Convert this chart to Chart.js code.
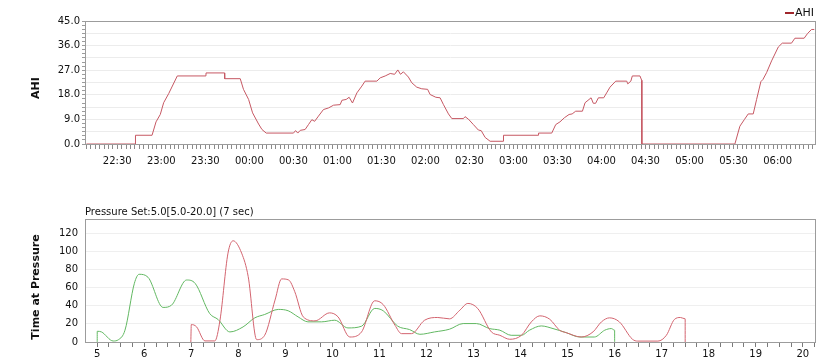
<!DOCTYPE html>
<html>
<head>
<meta charset="utf-8">
<script src="https://cdn.jsdelivr.net/npm/chart.js@4.4.1/dist/chart.umd.min.js"></script>
<style>
  body { margin: 0; background: #fff; width: 827px; height: 364px; overflow: hidden; position: relative;
         font-family: "DejaVu Sans", Verdana, sans-serif; color: #111; }
  canvas { position: absolute; left: 0; }
  #ahiChart { top: 0; }
  #pressureChart { top: 180px; }
  .vtitle { position: absolute; font-weight: bold; font-size: 11px; white-space: nowrap;
            transform: translate(-50%, -50%) rotate(-90deg); }
  #pressureNote { position: absolute; left: 85px; top: 206px; font-size: 10px; white-space: nowrap; }
  #legend { position: absolute; left: 785px; top: 6px; font-size: 11px; white-space: nowrap; }
  #legend span { display: inline-block; width: 9px; height: 0; border-top: 2px solid #a0262c; vertical-align: middle; margin-right: 1px; }
</style>
</head>
<body>
<canvas id="ahiChart" width="827" height="172"></canvas>
<canvas id="pressureChart" width="827" height="184"></canvas>
<div class="vtitle" style="left:35px; top:88px;">AHI</div>
<div class="vtitle" style="left:35px; top:287px;">Time at Pressure</div>
<div id="pressureNote">Pressure Set:5.0[5.0-20.0] (7 sec)</div>
<div id="legend"><span></span>AHI</div>

<script>
// ====================== DATA ======================
// AHI through the night, x = minutes after 22:00
const ahiMinutes = [
  9, 42.3, 42.4, 53.7, 56.4, 59.3, 61.6, 65, 70.9, 90.4, 90.5, 103.1, 103.2, 113.8,
  116, 119.5, 122.2, 126.3, 128.6, 131.5, 150.1, 151.5, 153, 154.7, 158, 160.3, 162.6,
  164.5, 167.1, 170.5, 174, 177.4, 181.9, 183.1, 186, 188, 190.3, 193.3, 196.7, 198.9,
  206.9, 209.2, 212.6, 216, 219, 221.2, 223, 225, 228.4, 230.7, 234.1, 237.5, 241.5,
  243.2, 247.1, 250, 252.3, 255.7, 258, 265.9, 267, 269.3, 272.7, 276.1, 278, 280.7,
  284.1, 293.1, 293.2, 317, 317.1, 326.1, 328.8, 331.7, 334.7, 337.9, 340, 342.4, 347,
  348.8, 352.9, 354.4, 356, 357.9, 361.5, 363.5, 365.8, 369.7, 377.2, 377.9, 380, 381,
  386.2, 387.4, 387.5, 450.9, 454.3, 457.3, 460, 463.4, 465.7, 468.6, 470, 472.5, 475.9,
  480.5, 483.2, 489.5, 491.8, 498.1, 500.4, 503.1, 505
];
const ahiValues = [
  0, 0, 3.2, 3.2, 8.1, 10.8, 15.1, 18.4, 24.9, 24.9, 26.0, 26.0, 23.9, 23.9,
  20.0, 16.3, 11.4, 7.3, 5.3, 4.0, 4.0, 4.9, 4.0, 5.0, 5.3, 7.1, 8.9,
  8.3, 10.2, 12.6, 13.2, 14.2, 14.4, 16.0, 16.3, 17.1, 15.0, 18.7, 21.2, 23.0,
  23.0, 24.2, 24.9, 25.8, 25.5, 27.1, 25.5, 26.4, 24.5, 22.4, 20.8, 20.2, 20.0,
  18.1, 17.1, 16.9, 14.4, 11.0, 9.3, 9.3, 10.0, 9.1, 7.1, 5.1, 4.9, 2.4,
  1.0, 1.0, 3.2, 3.2, 4.0, 4.0, 7.1, 8.1, 9.6, 10.8, 11.0, 12.0, 12.0,
  15.1, 16.9, 14.9, 14.9, 16.9, 16.9, 18.7, 20.8, 23.0, 23.0, 22.0, 23.0, 24.9,
  24.9, 23.3, 0, 0, 6.5, 8.9, 11.0, 11.0, 16.3, 22.8, 23.6, 26.1, 30.4,
  35.5, 36.9, 36.9, 38.7, 38.7, 40.4, 41.9, 41.9
];
const ahiTickLabels = [0, 9, 18, 27, 36, 45];

// Time at pressure, x = pressure (cmH2O)
const redPressure = [
  6.99, 7.0, 7.11, 7.29, 7.5, 7.61, 7.78, 7.89, 8.07, 8.21, 8.39, 8.56, 8.78, 8.92,
  9.07, 9.2, 9.38, 9.63, 9.94, 10.12, 10.37, 10.62, 10.9, 11.08, 11.33, 11.47, 11.68,
  11.96, 12.24, 12.49, 12.71, 12.88, 13.09, 13.38, 13.56, 13.77, 14.02, 14.23, 14.41,
  14.62, 14.83, 14.97, 15.29, 15.54, 15.72, 15.89, 16.1, 16.38, 16.49, 16.92, 17.1,
  17.27, 17.4, 17.5, 17.5
];
const redTime = [
  0, 19.2, 16.8, 1.2, 1.2, 24, 97.9, 111.5, 97.9, 72, 2.6, 7.4, 46.2, 69.5,
  68.3, 55.4, 27.7, 23.3, 32.1, 27.7, 5.5, 11.1, 45.4, 41.2, 18.5, 9.2, 9.2,
  24, 27, 25.5, 35.1, 42.5, 36.9, 11.1, 7.4, 3, 7.4, 22.2, 28.8,
  25.1, 13, 10.3, 5.5, 11.1, 22.2, 26.6, 22.2, 3, 1, 1, 7.4,
  24.8, 27, 25.5, 0
];
const greenPressure = [
  5.0, 5.0, 5.09, 5.34, 5.45, 5.59, 5.79, 5.89, 6.08, 6.4, 6.58, 6.9, 7.08, 7.39,
  7.57, 7.82, 8.1, 8.35, 8.56, 8.85, 9.06, 9.27, 9.48, 9.77, 10.05, 10.33, 10.62,
  10.9, 11.08, 11.39, 11.64, 11.86, 12.17, 12.49, 12.78, 13.06, 13.34, 13.56, 13.8,
  14.02, 14.19, 14.44, 14.69, 14.97, 15.26, 15.57, 15.79, 15.93, 16.0, 16.0
];
const greenTime = [
  0, 11.8, 11.1, 1.1, 2.5, 13, 64.7, 74.6, 71.3, 38.1, 40.6, 68.3, 64.7, 31.4,
  24.8, 11.1, 16.6, 26.6, 30.3, 35.9, 34.4, 27.7, 22.2, 22.2, 24, 15.5, 17.4,
  37, 34.4, 17.4, 13.7, 8.5, 11.1, 14.1, 20.3, 20.3, 14.8, 13, 7.4,
  7.4, 13, 17.7, 14.8, 10.3, 5.5, 5.5, 13, 14.8, 13, 0
];
const pressureTickLabels = [0, 20, 40, 60, 80, 100, 120];

// ====================== HELPERS ======================
const tickFont = { family: 'DejaVu Sans', size: 10 };

function hhmm(m) {
  const h = (22 + Math.floor(m / 60)) % 24;
  const mm = m % 60;
  return String(h).padStart(2, '0') + ':' + String(mm).padStart(2, '0');
}

function toPoints(xs, ys) {
  return xs.map((x, i) => ({ x: x, y: ys[i] }));
}

// grey frame round the plot area
const frame = {
  id: 'frame',
  afterDatasetsDraw(chart) {
    const { ctx, chartArea: a } = chart;
    ctx.save();
    ctx.strokeStyle = '#9c9c9c';
    ctx.lineWidth = 1;
    ctx.strokeRect(Math.round(a.left) + 0.5, Math.round(a.top) + 0.5,
                   Math.round(a.right - a.left), Math.round(a.bottom - a.top));
    ctx.restore();
  }
};

// ====================== AHI CHART ======================
new Chart(document.getElementById('ahiChart'), {
  type: 'line',
  data: {
    datasets: [{
      label: 'AHI',
      data: toPoints(ahiMinutes, ahiValues),
      borderColor: '#c65863',
      borderWidth: 1,
      pointRadius: 0,
      tension: 0
    }]
  },
  options: {
    responsive: false,
    animation: false,
    layout: { padding: { top: 21, right: 12, left: 0, bottom: 0 } },
    plugins: { legend: { display: false }, tooltip: { enabled: false } },
    scales: {
      x: {
        type: 'linear', min: 8, max: 505.5,
        afterFit: s => { s.height = 28; },
        afterBuildTicks: s => {
          s.ticks = [];
          for (let m = 9; m <= 504; m += 3) s.ticks.push({ value: m });
        },
        border: { color: '#9c9c9c' },
        grid: { drawOnChartArea: false, tickLength: 5, tickColor: '#8a8a8a' },
        ticks: {
          autoSkip: false, maxRotation: 0, padding: 6, color: '#111', font: tickFont,
          callback: v => (v % 30 === 0 ? hhmm(v) : '')
        }
      },
      y: {
        min: 0, max: 45,
        afterFit: s => { s.width = 85; },
        afterBuildTicks: s => {
          s.ticks = [];
          for (let i = 0; i <= 30; i++) s.ticks.push({ value: i * 1.5 });
        },
        border: { color: '#9c9c9c' },
        grid: {
          tickLength: 3, tickColor: '#9c9c9c',
          color: c => {
            const i = Math.round(c.tick.value / 1.5);
            return i % 3 === 0 ? '#ececec' : 'rgba(0,0,0,0)';
          }
        },
        ticks: {
          autoSkip: false, padding: 2, color: '#111', font: tickFont,
          callback: v => (ahiTickLabels.includes(Math.round(v * 10) / 10) ? v.toFixed(1) : '')
        }
      }
    }
  },
  plugins: [frame]
});

// ====================== TIME AT PRESSURE CHART ======================
new Chart(document.getElementById('pressureChart'), {
  type: 'line',
  data: {
    datasets: [
      {
        label: 'Pressure',
        data: toPoints(redPressure, redTime),
        borderColor: '#d3646f',
        borderWidth: 1,
        pointRadius: 0,
        cubicInterpolationMode: 'monotone'
      },
      {
        label: 'Set',
        data: toPoints(greenPressure, greenTime),
        borderColor: '#62b862',
        borderWidth: 1,
        pointRadius: 0,
        cubicInterpolationMode: 'monotone'
      }
    ]
  },
  options: {
    responsive: false,
    animation: false,
    layout: { padding: { top: 39, right: 12, left: 0, bottom: 0 } },
    plugins: { legend: { display: false }, tooltip: { enabled: false } },
    scales: {
      x: {
        type: 'linear', min: 4.74, max: 20.26,
        afterFit: s => { s.height = 22; },
        afterBuildTicks: s => {
          s.ticks = [];
          for (let p = 5; p <= 20.25; p += 0.25) s.ticks.push({ value: p });
        },
        border: { color: '#9c9c9c' },
        grid: { drawOnChartArea: false, tickLength: 5, tickColor: '#7a7a7a' },
        ticks: {
          autoSkip: false, maxRotation: 0, padding: 1, color: '#111', font: tickFont,
          callback: v => (Number.isInteger(v) ? String(v) : '')
        }
      },
      y: {
        min: 0, max: 135.5,
        afterFit: s => { s.width = 85; },
        afterBuildTicks: s => { s.ticks = pressureTickLabels.map(v => ({ value: v })); },
        border: { color: '#9c9c9c' },
        grid: { drawTicks: false, color: '#efefef' },
        ticks: { padding: 7, color: '#111', font: tickFont }
      }
    }
  },
  plugins: [frame]
});
</script>
</body>
</html>
